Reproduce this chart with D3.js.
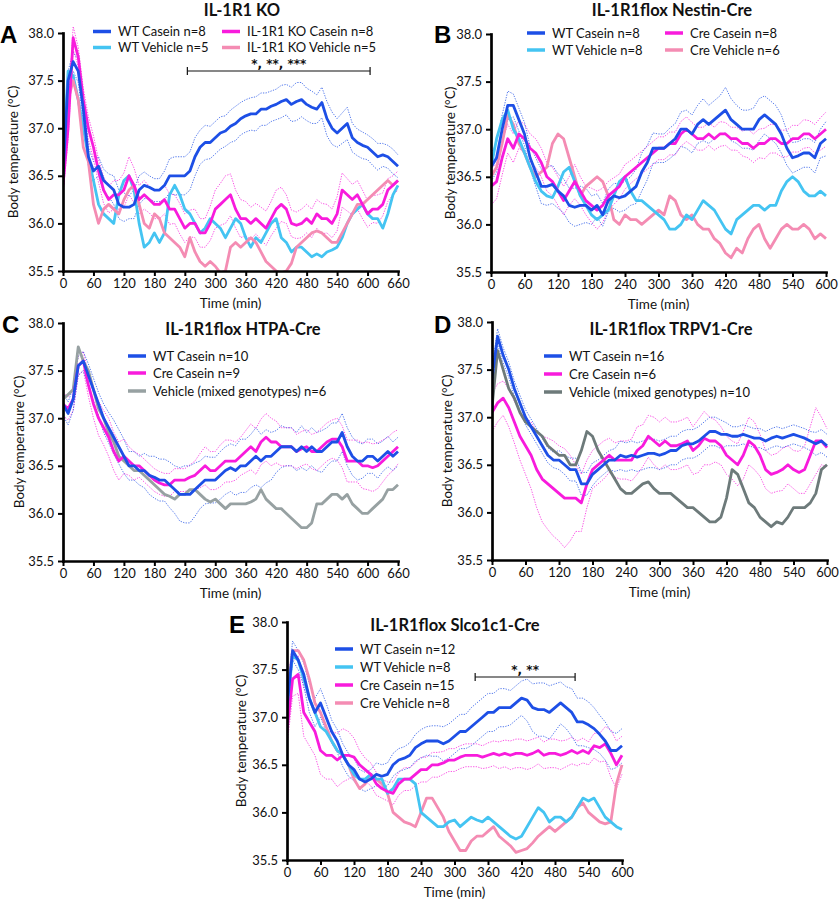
<!DOCTYPE html>
<html>
<head>
<meta charset="utf-8">
<script src="https://cdn.jsdelivr.net/npm/d3@7"></script>
<style>
  body { margin: 0; background: #fff; }
  svg { display: block; font-family: Lato, sans-serif; }
</style>
</head>
<body>
<svg id="chart" width="839" height="902"></svg>
<script>
// time points (min), one sample every 10 min
let time660 = d3.range(0, 661, 10);
let time600 = d3.range(0, 601, 10);

let ticks660 = [0, 60, 120, 180, 240, 300, 360, 420, 480, 540, 600, 660];
let ticks600 = [0, 60, 120, 180, 240, 300, 360, 420, 480, 540, 600];
let tempTicks = [35.5, 36.0, 36.5, 37.0, 37.5, 38.0];

// Panel A - IL-1R1 KO
let aWtCasein = [36.5,37.5,37.7,37.6,37.2,36.7,36.55,36.6,36.45,36.4,36.35,36.2,36.17,36.17,36.2,36.35,36.4,36.38,36.35,36.35,36.4,36.5,36.5,36.5,36.5,36.55,36.7,36.8,36.85,36.85,36.9,36.95,36.97,37.02,37.05,37.1,37.13,37.15,37.15,37.2,37.2,37.23,37.25,37.28,37.3,37.25,37.28,37.3,37.25,37.22,37.2,37.27,37.1,37.0,36.95,37.0,37.05,36.9,36.85,36.82,36.8,36.75,36.7,36.72,36.7,36.65,36.6];
let aWtCaseinSem = [0.08,0.1,0.1,0.12,0.12,0.1,0.1,0.1,0.12,0.12,0.15,0.15,0.15,0.12,0.15,0.15,0.14,0.12,0.12,0.12,0.15,0.18,0.2,0.2,0.2,0.2,0.2,0.18,0.18,0.17,0.17,0.17,0.16,0.17,0.18,0.17,0.17,0.17,0.18,0.17,0.17,0.16,0.16,0.17,0.16,0.18,0.2,0.18,0.17,0.17,0.15,0.16,0.18,0.17,0.15,0.16,0.17,0.15,0.14,0.14,0.13,0.14,0.14,0.12,0.12,0.13,0.12];
let aWtVehicle = [36.6,37.6,37.55,37.3,37.0,36.7,36.45,36.2,36.1,36.05,36.0,36.3,36.45,36.5,36.35,36.0,35.75,35.8,35.9,35.8,35.9,36.3,36.4,36.3,36.15,36.1,36.0,35.9,35.95,36.05,36.0,35.95,35.85,35.95,36.05,36.0,35.85,35.75,35.85,35.8,35.9,36.0,36.05,35.85,35.8,35.7,35.75,35.75,35.7,35.65,35.68,35.65,35.7,35.72,35.75,35.85,36.0,36.1,36.15,36.2,36.1,36.05,36.05,35.95,36.1,36.3,36.4];
let aKoCasein = [36.4,37.0,37.95,37.75,37.3,37.0,36.8,36.55,36.35,36.25,36.3,36.3,36.35,36.5,36.4,36.25,36.3,36.25,36.2,36.2,36.25,36.15,36.15,36.05,35.95,36.0,36.0,35.9,35.9,36.0,36.15,36.2,36.25,36.3,36.15,36.05,36.05,36.0,36.05,36.0,35.95,36.05,36.15,36.2,36.15,36.0,35.98,36.0,36.05,36.0,36.1,36.05,36.05,36.0,36.1,36.35,36.3,36.25,36.3,36.2,36.1,36.15,36.15,36.2,36.35,36.4,36.45];
let aKoCaseinSem = [0.1,0.12,0.12,0.1,0.12,0.12,0.12,0.12,0.14,0.14,0.15,0.15,0.18,0.2,0.18,0.15,0.15,0.14,0.15,0.15,0.15,0.16,0.15,0.16,0.15,0.14,0.15,0.15,0.15,0.18,0.2,0.22,0.25,0.22,0.2,0.2,0.18,0.17,0.16,0.17,0.18,0.18,0.2,0.18,0.15,0.14,0.14,0.15,0.15,0.15,0.15,0.16,0.15,0.15,0.18,0.18,0.17,0.16,0.15,0.15,0.14,0.14,0.15,0.12,0.12,0.1,0.1];
let aKoVehicle = [36.5,37.3,37.5,37.3,36.8,36.65,36.2,36.0,36.15,36.2,36.15,36.1,36.25,36.35,36.4,36.2,36.0,35.95,36.1,36.05,35.9,35.85,35.8,35.75,35.65,35.85,35.7,35.6,35.55,35.6,35.55,35.48,35.5,35.75,35.8,35.75,35.8,35.85,35.8,35.7,35.6,35.55,35.5,35.48,35.5,35.58,35.75,35.8,35.85,35.9,35.92,35.9,35.85,35.8,35.8,35.9,36.0,36.1,36.2,36.2,36.25,36.3,36.35,36.4,36.45,36.4,36.45];
let aSig = [245, 605];

// Panel B - IL-1R1flox Nestin-Cre
let bWtCasein = [36.6,36.7,37.0,37.25,37.25,37.1,36.95,36.7,36.55,36.4,36.4,36.42,36.35,36.3,36.2,36.18,36.2,36.2,36.15,36.2,36.1,36.25,36.3,36.28,36.3,36.35,36.4,36.55,36.65,36.8,36.8,36.8,36.85,36.9,37.0,37.0,36.95,37.05,37.1,37.05,37.1,37.15,37.2,37.1,37.05,37.0,37.0,37.0,37.1,37.15,37.1,37.05,36.95,36.8,36.7,36.72,36.75,36.75,36.7,36.85,36.9];
let bWtCaseinSem = [0.15,0.15,0.15,0.15,0.12,0.12,0.12,0.12,0.15,0.18,0.2,0.2,0.18,0.18,0.18,0.2,0.2,0.18,0.15,0.12,0.12,0.12,0.13,0.15,0.15,0.15,0.18,0.2,0.18,0.16,0.15,0.15,0.16,0.16,0.18,0.2,0.2,0.2,0.22,0.2,0.2,0.2,0.24,0.22,0.2,0.2,0.2,0.22,0.22,0.2,0.2,0.2,0.2,0.18,0.16,0.15,0.15,0.15,0.16,0.15,0.18];
let bWtVehicle = [36.6,36.9,37.1,37.2,37.0,36.9,36.75,36.6,36.45,36.35,36.3,36.28,36.4,36.55,36.6,36.45,36.3,36.2,36.1,36.05,36.1,36.15,36.3,36.45,36.5,36.35,36.25,36.25,36.2,36.15,36.1,36.05,35.95,35.95,36.0,36.1,36.05,36.15,36.25,36.2,36.15,36.05,35.95,35.9,36.05,36.1,36.15,36.2,36.2,36.15,36.2,36.2,36.35,36.45,36.5,36.45,36.35,36.3,36.3,36.35,36.3];
let bCreCasein = [36.4,36.45,36.7,36.9,36.8,36.95,36.9,36.8,36.75,36.65,36.5,36.45,36.35,36.25,36.35,36.45,36.35,36.25,36.2,36.15,36.2,36.3,36.35,36.4,36.5,36.55,36.6,36.65,36.7,36.75,36.8,36.8,36.85,36.85,36.95,37.0,36.95,36.9,36.9,36.95,36.9,36.95,36.95,36.9,36.9,36.85,36.85,36.8,36.85,36.85,36.9,36.9,36.85,36.85,36.9,36.9,36.95,36.95,36.9,36.95,37.0];
let bCreCaseinSem = [0.2,0.18,0.18,0.15,0.15,0.15,0.15,0.15,0.15,0.15,0.15,0.15,0.15,0.15,0.15,0.18,0.15,0.15,0.18,0.2,0.18,0.15,0.14,0.13,0.13,0.12,0.12,0.12,0.12,0.12,0.12,0.12,0.12,0.12,0.13,0.13,0.12,0.12,0.12,0.12,0.12,0.13,0.12,0.12,0.12,0.13,0.15,0.15,0.15,0.16,0.15,0.15,0.14,0.14,0.14,0.14,0.15,0.14,0.15,0.17,0.18];
let bCreVehicle = [36.5,36.6,36.85,37.15,37.05,36.85,36.75,36.6,36.5,36.55,36.6,36.85,36.95,36.9,36.7,36.5,36.3,36.4,36.45,36.5,36.45,36.3,36.05,36.0,36.1,36.05,36.05,36.0,36.05,36.1,36.15,36.1,36.3,36.25,36.1,36.05,36.1,36.0,35.95,35.95,35.85,35.8,35.7,35.65,35.75,35.7,35.85,35.95,36.0,35.85,35.75,35.85,35.95,36.0,35.95,35.95,36.0,35.95,35.85,35.9,35.85];

// Panel C - IL-1R1flox HTPA-Cre
let cWtCasein = [37.15,37.05,37.2,37.55,37.6,37.45,37.3,37.15,37.0,36.9,36.8,36.7,36.6,36.5,36.5,36.45,36.45,36.4,36.38,36.35,36.35,36.3,36.25,36.2,36.2,36.2,36.25,36.3,36.35,36.35,36.35,36.4,36.45,36.48,36.45,36.5,36.5,36.55,36.6,36.55,36.6,36.6,36.65,36.7,36.7,36.7,36.65,36.7,36.65,36.7,36.65,36.65,36.7,36.75,36.75,36.85,36.7,36.6,36.55,36.55,36.6,36.6,36.55,36.6,36.65,36.6,36.65];
let cWtCaseinSem = [0.12,0.12,0.12,0.1,0.1,0.12,0.12,0.12,0.15,0.16,0.18,0.18,0.18,0.15,0.15,0.15,0.18,0.2,0.22,0.22,0.22,0.24,0.25,0.28,0.3,0.3,0.28,0.25,0.25,0.24,0.24,0.25,0.25,0.25,0.26,0.28,0.28,0.28,0.3,0.28,0.28,0.25,0.22,0.22,0.2,0.2,0.2,0.22,0.2,0.2,0.2,0.22,0.2,0.2,0.2,0.2,0.2,0.2,0.2,0.18,0.18,0.18,0.18,0.16,0.16,0.15,0.15];
let cCreCasein = [37.15,37.1,37.2,37.55,37.6,37.35,37.15,37.0,36.9,36.8,36.65,36.55,36.6,36.55,36.5,36.5,36.45,36.4,36.35,36.32,36.3,36.3,36.35,36.35,36.35,36.38,36.4,36.45,36.5,36.45,36.45,36.5,36.55,36.55,36.55,36.6,36.65,36.7,36.65,36.75,36.8,36.75,36.75,36.7,36.7,36.7,36.65,36.68,36.7,36.65,36.65,36.7,36.75,36.78,36.78,36.7,36.55,36.55,36.55,36.5,36.5,36.48,36.5,36.55,36.6,36.65,36.7];
let cCreCaseinSem = [0.12,0.12,0.12,0.1,0.1,0.12,0.15,0.18,0.18,0.2,0.2,0.2,0.18,0.15,0.15,0.12,0.12,0.12,0.12,0.12,0.12,0.12,0.12,0.12,0.12,0.13,0.15,0.18,0.2,0.2,0.2,0.22,0.22,0.22,0.2,0.2,0.22,0.24,0.24,0.24,0.25,0.25,0.22,0.2,0.2,0.2,0.18,0.18,0.18,0.18,0.2,0.2,0.2,0.2,0.22,0.22,0.22,0.22,0.22,0.24,0.25,0.25,0.24,0.22,0.2,0.2,0.18];
let cVehicle = [37.2,37.25,37.3,37.75,37.6,37.5,37.3,37.1,37.0,36.85,36.75,36.6,36.55,36.5,36.45,36.45,36.4,36.35,36.3,36.25,36.2,36.18,36.15,36.2,36.2,36.25,36.25,36.2,36.15,36.12,36.15,36.1,36.05,36.1,36.1,36.1,36.1,36.12,36.15,36.25,36.15,36.1,36.05,36.05,36.0,35.95,35.9,35.85,35.85,35.9,36.1,36.1,36.15,36.2,36.2,36.15,36.2,36.1,36.05,36.0,36.0,36.05,36.1,36.15,36.25,36.25,36.3];

// Panel D - IL-1R1flox TRPV1-Cre
let dWtCasein = [37.4,37.85,37.65,37.5,37.3,37.15,37.0,36.9,36.8,36.7,36.6,36.55,36.55,36.5,36.45,36.45,36.3,36.3,36.4,36.45,36.5,36.55,36.55,36.6,36.58,36.6,36.58,36.6,36.62,36.62,36.6,36.62,36.65,36.65,36.7,36.72,36.72,36.75,36.8,36.85,36.85,36.82,36.82,36.8,36.8,36.82,36.8,36.78,36.78,36.75,36.78,36.8,36.78,36.8,36.82,36.8,36.78,36.75,36.72,36.75,36.7];
let dWtCaseinSem = [0.1,0.08,0.08,0.08,0.08,0.08,0.08,0.08,0.08,0.08,0.08,0.08,0.1,0.1,0.12,0.12,0.12,0.12,0.12,0.1,0.1,0.1,0.12,0.15,0.15,0.15,0.15,0.15,0.15,0.15,0.15,0.15,0.15,0.15,0.15,0.15,0.15,0.15,0.15,0.15,0.15,0.15,0.12,0.1,0.1,0.1,0.1,0.1,0.1,0.1,0.1,0.1,0.1,0.1,0.1,0.1,0.1,0.1,0.12,0.12,0.12];
let dCreCasein = [37.05,37.15,37.2,37.1,36.95,36.8,36.7,36.6,36.45,36.35,36.3,36.25,36.2,36.15,36.15,36.15,36.1,36.3,36.45,36.5,36.55,36.6,36.55,36.55,36.55,36.55,36.65,36.7,36.8,36.75,36.7,36.75,36.7,36.7,36.72,36.75,36.65,36.7,36.78,36.75,36.75,36.7,36.6,36.55,36.5,36.6,36.75,36.7,36.6,36.45,36.4,36.42,36.45,36.5,36.45,36.42,36.45,36.6,36.75,36.75,36.68];
let dCreCaseinSem = [0.2,0.2,0.18,0.2,0.22,0.25,0.3,0.35,0.4,0.45,0.48,0.5,0.5,0.52,0.45,0.35,0.3,0.25,0.2,0.2,0.2,0.18,0.18,0.2,0.2,0.22,0.25,0.22,0.22,0.25,0.25,0.25,0.25,0.25,0.25,0.25,0.25,0.28,0.28,0.25,0.22,0.2,0.2,0.2,0.22,0.25,0.25,0.25,0.22,0.2,0.2,0.2,0.22,0.2,0.2,0.22,0.25,0.3,0.35,0.25,0.2];
let dVehicle = [37.1,37.7,37.5,37.3,37.2,37.05,36.95,36.9,36.85,36.8,36.7,36.65,36.6,36.6,36.5,36.5,36.65,36.85,36.8,36.65,36.55,36.45,36.35,36.25,36.2,36.2,36.25,36.3,36.32,36.25,36.2,36.2,36.2,36.15,36.1,36.05,36.05,36.0,35.95,35.9,35.9,35.95,36.15,36.45,36.4,36.25,36.1,36.05,35.95,35.9,35.85,35.9,35.88,35.95,36.05,36.05,36.05,36.1,36.2,36.45,36.5];

// Panel E - IL-1R1flox Slco1c1-Cre
let eWtCasein = [37.1,37.7,37.6,37.45,37.2,37.05,37.15,37.0,36.85,36.75,36.6,36.5,36.45,36.35,36.32,36.35,36.4,36.38,36.4,36.5,36.55,36.57,36.6,36.68,36.72,36.75,36.75,36.75,36.72,36.75,36.8,36.85,36.85,36.9,36.95,37.0,37.05,37.05,37.1,37.1,37.1,37.15,37.2,37.18,37.1,37.08,37.08,37.05,37.1,37.15,37.1,37.05,36.95,36.95,36.92,36.88,36.82,36.75,36.65,36.65,36.7];
let eWtCaseinSem = [0.12,0.1,0.1,0.12,0.15,0.15,0.15,0.15,0.12,0.12,0.12,0.12,0.12,0.1,0.1,0.1,0.12,0.12,0.12,0.12,0.12,0.12,0.13,0.14,0.15,0.15,0.16,0.16,0.18,0.18,0.18,0.18,0.18,0.2,0.2,0.2,0.2,0.2,0.2,0.2,0.18,0.18,0.18,0.22,0.25,0.28,0.28,0.28,0.25,0.22,0.22,0.25,0.25,0.25,0.24,0.22,0.2,0.2,0.2,0.18,0.18];
let eWtVehicle = [37.1,37.65,37.6,37.4,37.2,37.05,36.9,36.85,36.75,36.65,36.6,36.5,36.4,36.35,36.35,36.4,36.35,36.35,36.2,36.25,36.35,36.35,36.35,36.3,36.0,35.95,35.9,35.85,35.85,35.9,35.92,35.85,35.9,35.95,35.92,35.9,35.95,35.9,35.85,35.8,35.75,35.72,35.75,35.85,35.95,36.05,36.0,35.9,35.95,35.95,35.9,35.95,36.05,36.15,36.12,36.15,36.05,35.95,35.9,35.85,35.82];
let eCreCasein = [36.85,37.4,37.45,37.05,36.95,36.85,36.65,36.6,36.6,36.55,36.6,36.6,36.58,36.5,36.45,36.4,36.3,36.25,36.22,36.2,36.3,36.35,36.35,36.4,36.45,36.45,36.5,36.5,36.52,36.55,36.55,36.58,36.6,36.6,36.6,36.58,36.6,36.62,36.6,36.62,36.6,36.62,36.62,36.6,36.62,36.65,36.6,36.62,36.62,36.6,36.62,36.65,36.62,36.65,36.62,36.7,36.68,36.72,36.62,36.5,36.6];
let eCreCaseinSem = [0.15,0.18,0.2,0.25,0.25,0.25,0.25,0.25,0.25,0.28,0.28,0.25,0.2,0.15,0.12,0.12,0.12,0.1,0.1,0.12,0.12,0.12,0.12,0.12,0.13,0.13,0.13,0.13,0.12,0.12,0.12,0.12,0.12,0.12,0.12,0.12,0.13,0.13,0.14,0.14,0.15,0.15,0.15,0.15,0.15,0.14,0.14,0.15,0.15,0.15,0.14,0.14,0.13,0.13,0.12,0.13,0.15,0.18,0.25,0.25,0.2];
let eCreVehicle = [37.2,37.7,37.7,37.6,37.4,37.15,37.05,36.9,36.75,36.65,36.6,36.5,36.35,36.25,36.3,36.4,36.35,36.3,36.2,36.0,35.95,35.9,35.88,35.85,36.0,36.15,36.15,36.05,35.95,35.8,35.7,35.6,35.6,35.7,35.75,35.75,35.8,35.85,35.75,35.7,35.65,35.58,35.6,35.62,35.68,35.75,35.8,35.85,35.8,35.85,35.9,35.95,36.05,36.1,36.0,35.95,35.9,35.88,35.9,36.3,36.5];
let eSig = [337, 516];

// colours
let blue = "#1d4fe6";
let lightBlue = "#44c4f2";
let magenta = "#f81bdc";
let pink = "#f48cb3";
let greyC = "#97a1a2";
let greyD = "#6d7a7a";

// plot size
let width = 335;
let height = 238;

let svg = d3.select("#chart");

let panels = [
	{
		letter: "A", title: "IL-1R1 KO", left: 63, top: 33, time: time660, xTicks: ticks660,
		letterPos: [0, 43], titlePos: [242, 16], yLabelOffset: 50,
		lines: [
			{ values: aWtVehicle, color: lightBlue },
			{ values: aKoVehicle, color: pink },
			{ values: aKoCasein, color: magenta, sem: aKoCaseinSem },
			{ values: aWtCasein, color: blue, sem: aWtCaseinSem }
		],
		legend: [
			{ label: "WT Casein n=8", color: blue, x: 93, y: 31.5 },
			{ label: "WT Vehicle n=5", color: lightBlue, x: 93, y: 47.5 },
			{ label: "IL-1R1 KO Casein n=8", color: magenta, x: 222, y: 31.5 },
			{ label: "IL-1R1 KO Vehicle n=5", color: pink, x: 222, y: 47.5 }
		],
		sig: { range: aSig, y: 71, text: "*, **, ***" }
	},
	{
		letter: "B", title: "IL-1R1flox Nestin-Cre", left: 491, top: 34, time: time600, xTicks: ticks600,
		letterPos: [434, 43], titlePos: [672, 16], yLabelOffset: 41,
		lines: [
			{ values: bCreVehicle, color: pink },
			{ values: bWtVehicle, color: lightBlue },
			{ values: bCreCasein, color: magenta, sem: bCreCaseinSem },
			{ values: bWtCasein, color: blue, sem: bWtCaseinSem }
		],
		legend: [
			{ label: "WT Casein n=8", color: blue, x: 527, y: 33 },
			{ label: "WT Vehicle n=8", color: lightBlue, x: 527, y: 50 },
			{ label: "Cre Casein n=8", color: magenta, x: 665, y: 33 },
			{ label: "Cre Vehicle n=6", color: pink, x: 665, y: 50 }
		]
	},
	{
		letter: "C", title: "IL-1R1flox HTPA-Cre", left: 63, top: 323, time: time660, xTicks: ticks660,
		letterPos: [2, 333], titlePos: [243, 335], yLabelOffset: 44,
		lines: [
			{ values: cVehicle, color: greyC },
			{ values: cCreCasein, color: magenta, sem: cCreCaseinSem },
			{ values: cWtCasein, color: blue, sem: cWtCaseinSem }
		],
		legend: [
			{ label: "WT Casein n=10", color: blue, x: 128, y: 356 },
			{ label: "Cre Casein n=9", color: magenta, x: 128, y: 373 },
			{ label: "Vehicle (mixed genotypes) n=6", color: greyC, x: 128, y: 391 }
		]
	},
	{
		letter: "D", title: "IL-1R1flox TRPV1-Cre", left: 492, top: 322, time: time600, xTicks: ticks600,
		letterPos: [434, 333], titlePos: [671, 335], yLabelOffset: 45,
		lines: [
			{ values: dVehicle, color: greyD },
			{ values: dCreCasein, color: magenta, sem: dCreCaseinSem },
			{ values: dWtCasein, color: blue, sem: dWtCaseinSem }
		],
		legend: [
			{ label: "WT Casein n=16", color: blue, x: 544, y: 356 },
			{ label: "Cre Casein n=6", color: magenta, x: 544, y: 374 },
			{ label: "Vehicle (mixed genotypes) n=10", color: greyD, x: 544, y: 392 }
		]
	},
	{
		letter: "E", title: "IL-1R1flox Slco1c1-Cre", left: 287, top: 622, time: time600, xTicks: ticks600,
		letterPos: [229, 633], titlePos: [455, 631], yLabelOffset: 46,
		lines: [
			{ values: eCreVehicle, color: pink },
			{ values: eWtVehicle, color: lightBlue },
			{ values: eCreCasein, color: magenta, sem: eCreCaseinSem },
			{ values: eWtCasein, color: blue, sem: eWtCaseinSem }
		],
		legend: [
			{ label: "WT Casein n=12", color: blue, x: 335, y: 649 },
			{ label: "WT Vehicle n=8", color: lightBlue, x: 335, y: 667 },
			{ label: "Cre Casein  n=15", color: magenta, x: 335, y: 685 },
			{ label: "Cre Vehicle n=8", color: pink, x: 335, y: 703 }
		],
		sig: { range: eSig, y: 677, text: "*, **" }
	}
];

let drawPanel = (p, i) => {
	let xScale = d3.scaleLinear()
		.domain([0, d3.max(p.xTicks)])
		.range([0, width]);
	let yScale = d3.scaleLinear()
		.domain([35.5, 38])
		.range([height, 0]);

	let g = svg.append("g")
		.attr("transform", "translate(" + p.left + ", " + p.top + ")");

	// clip so traces stop at the axes
	svg.append("clipPath")
		.attr("id", "clip" + i)
		.append("rect")
		.attr("x", 0)
		.attr("y", -6)
		.attr("width", width + 4)
		.attr("height", height + 6);

	let plot = g.append("g").attr("clip-path", "url(#clip" + i + ")");

	let line = d3.line()
		.x((d, j) => xScale(p.time[j]))
		.y((d) => yScale(d));

	// SEM bands as thin dotted lines
	p.lines.filter((s) => s.sem).forEach((s) => {
		let upper = s.values.map((v, j) => v + s.sem[j]);
		let lower = s.values.map((v, j) => v - s.sem[j]);
		[upper, lower].forEach((band) => {
			plot.append("path")
				.datum(band)
				.attr("d", line)
				.attr("fill", "none")
				.attr("stroke", s.color)
				.attr("stroke-width", 1)
				.attr("stroke-dasharray", "1.3,1.3")
				.attr("opacity", 0.75);
		});
	});

	p.lines.forEach((s) => {
		plot.append("path")
			.datum(s.values)
			.attr("d", line)
			.attr("fill", "none")
			.attr("stroke", s.color)
			.attr("stroke-width", 2.8)
			.attr("stroke-linejoin", "round");
	});

	// axes
	let xAxis = d3.axisBottom(xScale)
		.tickValues(p.xTicks)
		.tickFormat(d3.format("d"))
		.tickSize(5)
		.tickSizeOuter(0)
		.tickPadding(3);
	let yAxis = d3.axisLeft(yScale)
		.tickValues(tempTicks)
		.tickFormat(d3.format(".1f"))
		.tickSize(5)
		.tickSizeOuter(0)
		.tickPadding(4);

	let gx = g.append("g")
		.attr("transform", "translate(0, " + height + ")")
		.call(xAxis);
	let gy = g.append("g").call(yAxis);

	[gx, gy].forEach((ax) => {
		ax.select(".domain").attr("stroke-width", 2.7).attr("stroke-linecap", "square");
		ax.selectAll(".tick line").attr("stroke-width", 2);
		ax.selectAll(".tick text")
			.attr("font-family", "Lato, sans-serif")
			.attr("font-size", 13)
			.attr("fill", "#111");
	});

	// axis titles
	g.append("text")
		.attr("x", width / 2)
		.attr("y", height + 37)
		.attr("text-anchor", "middle")
		.attr("font-size", 13.5)
		.attr("fill", "#111")
		.text("Time (min)");

	g.append("text")
		.attr("transform", "translate(" + (-p.yLabelOffset) + ", " + (height / 2) + ") rotate(-90)")
		.attr("dy", "0.35em")
		.attr("text-anchor", "middle")
		.attr("font-size", 13.5)
		.attr("fill", "#111")
		.text("Body temperature (°C)");

	// panel title and letter
	svg.append("text")
		.attr("x", p.titlePos[0])
		.attr("y", p.titlePos[1])
		.attr("text-anchor", "middle")
		.attr("font-size", 16.5)
		.attr("font-weight", "bold")
		.attr("fill", "#111")
		.text(p.title);

	svg.append("text")
		.attr("x", p.letterPos[0])
		.attr("y", p.letterPos[1])
		.attr("font-family", "Liberation Sans, Arial, sans-serif")
		.attr("font-size", 24)
		.attr("font-weight", "bold")
		.attr("fill", "#000")
		.text(p.letter);

	// legend
	p.legend.forEach((item) => {
		svg.append("line")
			.attr("x1", item.x)
			.attr("x2", item.x + 18)
			.attr("y1", item.y)
			.attr("y2", item.y)
			.attr("stroke", item.color)
			.attr("stroke-width", 3.5);
		svg.append("text")
			.attr("x", item.x + 25)
			.attr("y", item.y)
			.attr("dy", "0.35em")
			.attr("font-size", 13)
			.attr("fill", "#111")
			.text(item.label);
	});

	// significance bar
	if (p.sig) {
		let x1 = p.left + xScale(p.sig.range[0]);
		let x2 = p.left + xScale(p.sig.range[1]);
		let sg = svg.append("g").attr("stroke", "#111").attr("stroke-width", 1.2);
		sg.append("line").attr("x1", x1).attr("x2", x2).attr("y1", p.sig.y).attr("y2", p.sig.y);
		sg.append("line").attr("x1", x1).attr("x2", x1).attr("y1", p.sig.y - 4).attr("y2", p.sig.y + 4);
		sg.append("line").attr("x1", x2).attr("x2", x2).attr("y1", p.sig.y - 4).attr("y2", p.sig.y + 4);
		svg.append("text")
			.attr("x", (x1 + x2) / 2)
			.attr("y", p.sig.y - 3)
			.attr("text-anchor", "middle")
			.attr("font-family", "DejaVu Sans, sans-serif")
			.attr("font-size", 12)
			.attr("font-weight", "bold")
			.attr("fill", "#111")
			.text(p.sig.text);
	}
};

panels.forEach(drawPanel);
</script>
</body>
</html>
